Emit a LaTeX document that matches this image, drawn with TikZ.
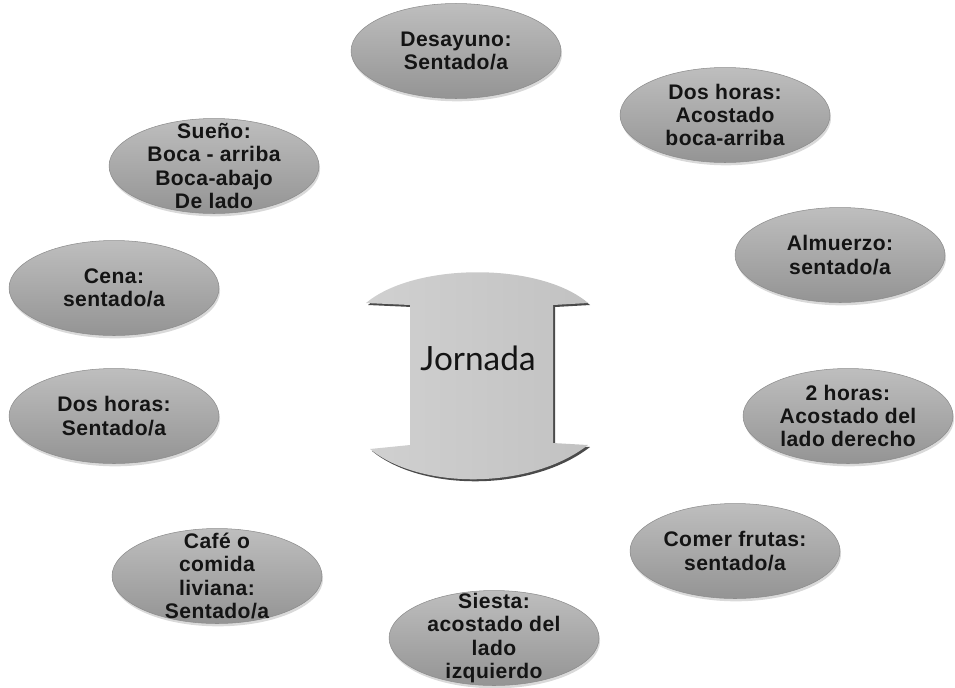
\documentclass[tikz,border=0pt]{standalone}
\usepackage{fontspec}
\setmainfont{Liberation Sans}
\newfontfamily\jfont{Lato}
\usetikzlibrary{shapes.geometric,shadows}
\definecolor{elltop}{HTML}{BEBEBE}
\definecolor{ellbot}{HTML}{949494}
\definecolor{txt}{HTML}{141414}
\definecolor{arrfill}{HTML}{C8C8C8}
\definecolor{arrshade}{HTML}{4A4A4A}
\begin{document}
\begin{tikzpicture}[x=0.02cm,y=-0.02cm]
\useasboundingbox (0,0) rectangle (955,687);
\tikzset{
  oval/.style={ellipse, minimum width=4.2cm, minimum height=1.9cm, inner sep=0pt,
    top color=elltop, bottom color=ellbot, draw=black!45, line width=0.3pt,
    drop shadow={opacity=0.3, shadow xshift=0.6pt, shadow yshift=-1.6pt}},
  lbl/.style={font=\fontsize{12}{13.2}\selectfont\bfseries\addfontfeature{LetterSpace=2}, text=txt, align=center, inner sep=0pt},
  centretext/.style={font=\jfont\fontsize{19}{22}\selectfont, text=txt, inner sep=0pt}
}
% central double-headed shape
\fill[arrshade] (368,305) -- (412,307) -- (412,447) -- (372,451)
  .. controls (422,492) and (532,492) .. (590,447) -- (555,445) -- (555,307) -- (590,305)
  .. controls (542,264) and (417,264) .. (368,305) -- cycle;
\shade[left color=arrfill!85!white, right color=arrfill!97!black] (366,303) -- (410,305) -- (410,445) -- (370,449)
  .. controls (420,490) and (530,490) .. (588,445) -- (553,443) -- (553,305) -- (588,303)
  .. controls (540,262) and (415,262) .. (366,303) -- cycle;
\node[centretext] (jornada) at (478,358) {Jornada};

% ellipses
\node[oval] (e1) at (456,51) {};
\node[lbl] (t1) at (e1.center) {Desayuno:\\Sentado/a};
\node[oval] (e2) at (725,115) {};
\node[lbl] (t2) at (e2.center) {Dos horas:\\Acostado\\boca-arriba};
\node[oval] (e3) at (840,255) {};
\node[lbl] (t3) at (e3.center) {Almuerzo:\\sentado/a};
\node[oval] (e4) at (848,416) {};
\node[lbl] (t4) at (e4.center) {2 horas:\\Acostado del\\lado derecho};
\node[oval] (e5) at (735,551) {};
\node[lbl] (t5) at (e5.center) {Comer frutas:\\sentado/a};
\node[oval] (e6) at (494,638) {};
\node[lbl] (t6) at (e6.center) {Siesta:\\acostado del\\lado\\izquierdo};
\node[oval] (e7) at (217,576) {};
\node[lbl] (t7) at (e7.center) {Café o\\comida\\liviana:\\Sentado/a};
\node[oval] (e8) at (114,416) {};
\node[lbl] (t8) at (e8.center) {Dos horas:\\Sentado/a};
\node[oval] (e9) at (114,288) {};
\node[lbl] (t9) at (e9.center) {Cena:\\sentado/a};
\node[oval] (e10) at (214,166) {};
\node[lbl] (t10) at (e10.center) {Sueño:\\Boca - arriba\\Boca-abajo\\De lado};
\end{tikzpicture}
\end{document}
